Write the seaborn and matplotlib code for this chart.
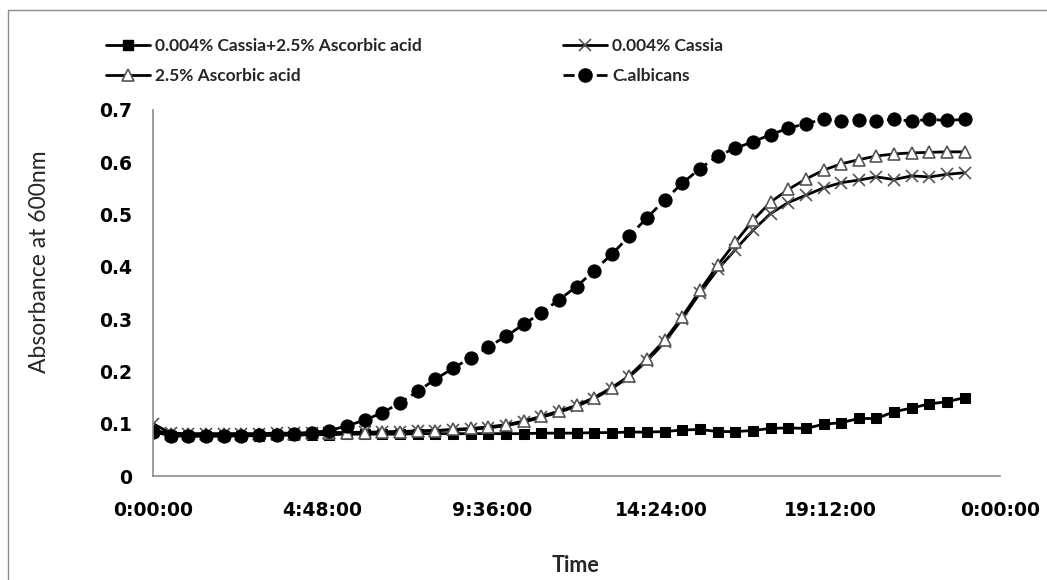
import matplotlib
matplotlib.use("Agg")
import matplotlib.pyplot as plt
from matplotlib.lines import Line2D
import seaborn as sns
import pandas as pd

# Sampling times in hours (every 30 minutes)
hours = [0, 0.5, 1, 1.5, 2, 2.5, 3, 3.5, 4, 4.5,
         5, 5.5, 6, 6.5, 7, 7.5, 8, 8.5, 9, 9.5,
         10, 10.5, 11, 11.5, 12, 12.5, 13, 13.5, 14, 14.5,
         15, 15.5, 16, 16.5, 17, 17.5, 18, 18.5, 19, 19.5,
         20, 20.5, 21, 21.5, 22, 22.5, 23]

cassia_ascorbic = [0.085, 0.077, 0.076, 0.076, 0.076, 0.077, 0.077, 0.078, 0.078, 0.079,
                   0.079, 0.080, 0.080, 0.080, 0.080, 0.081, 0.081, 0.081, 0.081, 0.081,
                   0.081, 0.081, 0.082, 0.082, 0.082, 0.083, 0.083, 0.084, 0.084, 0.085,
                   0.088, 0.089, 0.085, 0.085, 0.087, 0.091, 0.092, 0.091, 0.099, 0.102,
                   0.110, 0.110, 0.123, 0.130, 0.138, 0.142, 0.150]

cassia = [0.100, 0.082, 0.081, 0.081, 0.081, 0.081, 0.081, 0.082, 0.082, 0.083,
          0.083, 0.083, 0.084, 0.084, 0.085, 0.086, 0.087, 0.088, 0.089, 0.092,
          0.096, 0.103, 0.112, 0.122, 0.133, 0.148, 0.167, 0.190, 0.220, 0.256,
          0.301, 0.350, 0.395, 0.433, 0.470, 0.502, 0.523, 0.537, 0.551, 0.561,
          0.566, 0.572, 0.567, 0.574, 0.572, 0.577, 0.580]

ascorbic = [0.088, 0.081, 0.080, 0.080, 0.080, 0.080, 0.080, 0.081, 0.081, 0.082,
            0.082, 0.083, 0.083, 0.084, 0.085, 0.086, 0.087, 0.089, 0.091, 0.094,
            0.098, 0.105, 0.114, 0.124, 0.135, 0.150, 0.169, 0.192, 0.224, 0.260,
            0.305, 0.355, 0.403, 0.447, 0.489, 0.524, 0.548, 0.568, 0.585, 0.597,
            0.605, 0.612, 0.616, 0.618, 0.619, 0.620, 0.620]

albicans = [0.085, 0.077, 0.077, 0.076, 0.076, 0.077, 0.078, 0.078, 0.080, 0.083,
            0.087, 0.096, 0.107, 0.121, 0.140, 0.162, 0.185, 0.206, 0.226, 0.247,
            0.267, 0.290, 0.312, 0.337, 0.362, 0.393, 0.424, 0.459, 0.494, 0.528,
            0.560, 0.588, 0.612, 0.627, 0.639, 0.653, 0.665, 0.674, 0.682, 0.679,
            0.681, 0.679, 0.682, 0.679, 0.682, 0.680, 0.682]

labels = ["0.004% Cassia+2.5% Ascorbic acid", "0.004% Cassia",
          "2.5% Ascorbic acid", "C.albicans"]

x_ticks = [0, 4.8, 9.6, 14.4, 19.2, 24]
x_tick_labels = ["0:00:00", "4:48:00", "9:36:00", "14:24:00", "19:12:00", "0:00:00"]
y_ticks = [0, 0.1, 0.2, 0.3, 0.4, 0.5, 0.6, 0.7]
y_tick_labels = ["0", "0.1", "0.2", "0.3", "0.4", "0.5", "0.6", "0.7"]

sns.set_style("white")
plt.rcParams["font.family"] = ["Lato", "DejaVu Sans"]
legend_prop = {"family": "Lato", "weight": "bold", "size": 12.5}

W, H = 1047, 580
fig = plt.figure(figsize=(W / 100, H / 100), dpi=100)
ax = fig.add_axes([153 / W, 1 - 476 / H, 847 / W, 366 / H])

df = pd.DataFrame({"hours": hours, "ca": cassia_ascorbic, "c": cassia,
                   "a": ascorbic, "alb": albicans})

styles = {
    "ca": dict(marker="s", markersize=7, markerfacecolor="black",
               markeredgecolor="black", linestyle="-"),
    "c": dict(marker="x", markersize=9, markeredgecolor="#555555",
              markeredgewidth=1.2, linestyle="-"),
    "a": dict(marker="^", markersize=8.5, markerfacecolor="white",
              markeredgecolor="#555555", markeredgewidth=1.2, linestyle="-"),
    "alb": dict(marker="o", markersize=9.5, markerfacecolor="black",
                markeredgecolor="black", linestyle=(0, (4, 2))),
}

for key in ["ca", "c", "a", "alb"]:
    sns.lineplot(data=df, x="hours", y=key, ax=ax, color="black",
                 linewidth=2, legend=False, **styles[key])

ax.set_xlim(0, 24)
ax.set_ylim(0, 0.7)
ax.set_xticks(x_ticks)
ax.set_xticklabels(x_tick_labels)
ax.set_yticks(y_ticks)
ax.set_yticklabels(y_tick_labels)
ax.set_xlabel("")
ax.set_ylabel("")

for side in ["top", "right"]:
    ax.spines[side].set_visible(False)
for side in ["left", "bottom"]:
    ax.spines[side].set_color("#8c8c8c")
    ax.spines[side].set_linewidth(1.2)

ax.tick_params(axis="both", direction="out", length=6, width=1.2,
               color="#8c8c8c", labelcolor="black")
ax.tick_params(axis="y", pad=9)
ax.tick_params(axis="x", pad=12)
for lab in ax.get_xticklabels() + ax.get_yticklabels():
    lab.set_fontfamily(["DejaVu Sans"])
    lab.set_fontweight("bold")
    lab.set_fontsize(13.5)

fig.text(576 / W, 1 - 566 / H, "Time", ha="center", va="center",
         fontsize=15.5, fontweight="bold")
fig.text(40 / W, 1 - 262 / H, "Absorbance at 600nm", ha="center",
         va="center", rotation=90, fontsize=16.5)

# Legend: two columns, filled row by row
handles = []
for key in ["ca", "a", "c", "alb"]:
    st = dict(styles[key])
    handles.append(Line2D([], [], color="black", linewidth=2, **st))
leg_labels = [labels[0], labels[2], labels[1], labels[3]]
fs_px = legend_prop["size"] * 100 / 72
ax.legend(handles, leg_labels, ncol=2, loc="upper left",
          bbox_to_anchor=(97 / W, 1 - 29 / H), bbox_transform=fig.transFigure,
          frameon=False, borderpad=0, handlelength=44 / fs_px,
          handletextpad=5 / fs_px, columnspacing=142 / fs_px,
          labelspacing=0.85, prop=legend_prop)

# Chart-area border along the left and top edges
fig.add_artist(Line2D([8 / W, 8 / W], [0, 1 - 10 / H], transform=fig.transFigure,
                      color="#8c8c8c", linewidth=1))
fig.add_artist(Line2D([8 / W, 1], [1 - 10 / H, 1 - 10 / H], transform=fig.transFigure,
                      color="#8c8c8c", linewidth=1))

fig.savefig("out.png", dpi=100)
